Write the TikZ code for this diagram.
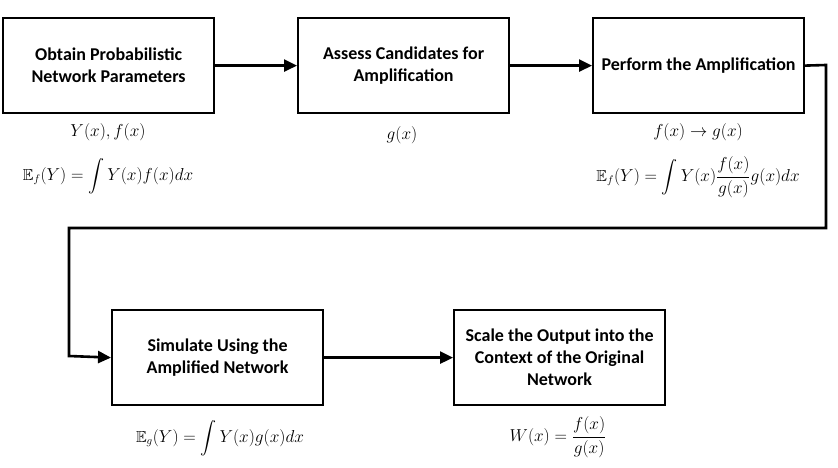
\documentclass[tikz,border=0pt]{standalone}
\usepackage{amsmath,amssymb}
\usepackage{fontspec}
\setmainfont{Carlito}
\usetikzlibrary{arrows.meta}
\begin{document}
\begin{tikzpicture}[x=1pt,y=-1pt,
  stepbox/.style={draw, line width=2.2pt, minimum width=211pt, minimum height=95pt,
    align=center, font=\fontsize{18}{22}\selectfont\bfseries, anchor=north west, inner sep=0pt},
  flow/.style={line width=2.6pt, -{Triangle[length=13pt,width=12pt]}},
  eq/.style={font=\fontsize{16}{20}\selectfont, inner sep=0pt}]
\useasboundingbox (0,0) rectangle (838,468);
\node[stepbox] (obtain) at (2,17) {Obtain Probabilistic\\Network Parameters};
\node[stepbox] (assess) at (297,17) {Assess Candidates for\\Amplification};
\node[stepbox] (perform) at (592,17) {Perform the Amplification};
\node[stepbox] (simulate) at (111,309) {Simulate Using the\\Amplified Network};
\node[stepbox] (scale) at (453,309) {Scale the Output into the\\Context of the Original\\Network};

\draw[flow] (obtain.east) -- (assess.west);
\draw[flow] (assess.east) -- (perform.west);
\coordinate (c1) at (826,65);
\coordinate (c2) at (826,228);
\coordinate (c3) at (69,228);
\coordinate (c4) at (69,356);
\draw[flow] (perform.east) -- (c1) -- (c2) -- (c3) -- (c4) -- (simulate.west);
\draw[flow] (simulate.east) -- (scale.west);

\node[eq] (l1a) at (108,132) {$Y(x), f(x)$};
\node[eq] (l1b) at (108,176) {$\mathbb{E}_f(Y)=\displaystyle\int Y(x)f(x)dx$};
\node[eq] (l2) at (402,135) {$g(x)$};
\node[eq] (l3a) at (698,132) {$f(x)\rightarrow g(x)$};
\node[eq] (l3b) at (698,177) {$\mathbb{E}_f(Y)=\displaystyle\int Y(x)\frac{f(x)}{g(x)}g(x)dx$};
\node[eq] (l4) at (220,438) {$\mathbb{E}_g(Y)=\displaystyle\int Y(x)g(x)dx$};
\node[eq] (l5) at (558,437) {$W(x)=\dfrac{f(x)}{g(x)}$};
\end{tikzpicture}
\end{document}
